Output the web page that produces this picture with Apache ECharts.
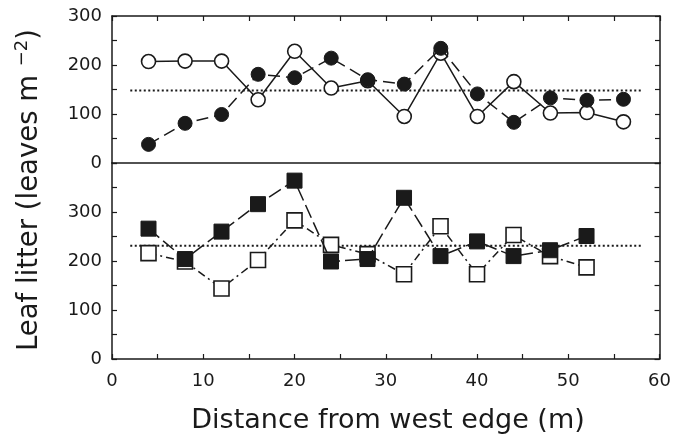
<!DOCTYPE html>
<html>
<head>
<meta charset="utf-8">
<script src="https://cdn.jsdelivr.net/npm/echarts@6/dist/echarts.min.js"></script>
<style>
html, body { margin: 0; padding: 0; background: #fff; }
#container { width: 674px; height: 439px; }
</style>
</head>
<body>
<div id="container"></div>
<script>
// upper panel (circles)
var distTop = [4, 8, 12, 16, 20, 24, 28, 32, 36, 40, 44, 48, 52, 56];
var openTop = [207, 208, 208, 129, 228, 153, 168, 95, 224, 95, 166, 102, 103, 84];
var filledTop = [38, 81, 99, 181, 174, 214, 170, 161, 234, 141, 83, 133, 128, 130];
var meanTop = 148;

// lower panel (squares)
var distBottom = [4, 8, 12, 16, 20, 24, 28, 32, 36, 40, 44, 48, 52];
var filledBottom = [266, 204, 260, 316, 364, 199, 204, 329, 210, 240, 210, 222, 251];
var openBottom = [216, 199, 144, 202, 283, 233, 214, 173, 271, 173, 253, 210, 187];
var meanBottom = 231;

var meanSpan = [2, 58];

var FONT = 'DejaVu Sans';
var INK = '#1a1a1a';

function pairs(xs, ys) {
    var out = [];
    for (var i = 0; i < xs.length; i++) out.push([xs[i], ys[i]]);
    return out;
}
function flat(xs, v) {
    return xs.map(function (x) { return [x, v]; });
}

var dom = document.getElementById('container');
var myChart = echarts.init(dom, null, { renderer: 'canvas' });

var lineStyle = { color: INK, width: 1.5 };
var tick = { show: true, inside: true, length: 5, lineStyle: { color: INK, width: 1.2 } };
var minor = { show: true, splitNumber: 2, length: 5, lineStyle: { color: INK, width: 1.2 } };

function xAx(grid, pos, labels, ticks) {
    return {
        type: 'value', gridIndex: grid, position: pos, min: 0, max: 60, interval: 10,
        axisLine: { show: true, onZero: false, lineStyle: lineStyle },
        axisTick: ticks ? tick : { show: false },
        minorTick: ticks ? minor : { show: false },
        axisLabel: { show: labels, color: INK, fontFamily: FONT, fontSize: 18, margin: 13 },
        splitLine: { show: false }
    };
}
function yAx(grid, pos, max, labels) {
    return {
        type: 'value', gridIndex: grid, position: pos, min: 0, max: max, interval: 100,
        axisLine: { show: true, onZero: false, lineStyle: lineStyle },
        axisTick: tick,
        minorTick: minor,
        axisLabel: {
            show: labels, color: INK, fontFamily: FONT, fontSize: 18, margin: 10,
            formatter: function (v) { return v === 400 ? '' : v; }
        },
        splitLine: { show: false }
    };
}

var option = {
    backgroundColor: '#fff',
    animation: false,
    grid: [
        { left: 112, right: 14, top: 16, height: 147 },
        { left: 112, right: 14, top: 163, height: 196 }
    ],
    xAxis: [
        xAx(0, 'bottom', false, false),
        xAx(0, 'top', false, true),
        xAx(1, 'bottom', true, true)
    ],
    yAxis: [
        yAx(0, 'left', 300, true),
        yAx(0, 'right', 300, false),
        yAx(1, 'left', 400, true),
        yAx(1, 'right', 400, false)
    ],
    graphic: [
        {
            type: 'text', x: 388, y: 421,
            style: {
                text: 'Distance from west edge (m)', fill: INK,
                font: '27px "DejaVu Sans"', align: 'center', verticalAlign: 'middle'
            }
        },
        {
            type: 'text', x: 30, y: 190, rotation: Math.PI / 2,
            style: {
                text: '{a|Leaf litter (leaves m }{s|\u22122}{a|)}',
                align: 'center', verticalAlign: 'middle',
                rich: {
                    a: { fontFamily: FONT, fontSize: 27.5, fill: INK, color: INK, lineHeight: 34 },
                    s: { fontFamily: FONT, fontSize: 18, fill: INK, color: INK, lineHeight: 34, verticalAlign: 'top' }
                }
            }
        }
    ],
    series: [
        {
            type: 'line', xAxisIndex: 0, yAxisIndex: 0, data: flat(meanSpan, meanTop),
            symbol: 'none', lineStyle: { color: INK, width: 2, type: [2, 2.5] }, z: 1
        },
        {
            name: 'open circles', type: 'line', xAxisIndex: 0, yAxisIndex: 0,
            data: pairs(distTop, openTop),
            symbol: 'circle', symbolSize: 14,
            itemStyle: { color: '#fff', borderColor: INK, borderWidth: 1.6 },
            lineStyle: { color: INK, width: 1.5 }, z: 2
        },
        {
            name: 'filled circles', type: 'line', xAxisIndex: 0, yAxisIndex: 0,
            data: pairs(distTop, filledTop),
            symbol: 'circle', symbolSize: 14,
            itemStyle: { color: INK, borderColor: INK, borderWidth: 1 },
            lineStyle: { color: INK, width: 1.5, type: [12, 6] }, z: 3
        },
        {
            type: 'line', xAxisIndex: 2, yAxisIndex: 2, data: flat(meanSpan, meanBottom),
            symbol: 'none', lineStyle: { color: INK, width: 2, type: [2, 2.5] }, z: 1
        },
        {
            name: 'open squares', type: 'line', xAxisIndex: 2, yAxisIndex: 2,
            data: pairs(distBottom, openBottom),
            symbol: 'rect', symbolSize: 15,
            itemStyle: { color: '#fff', borderColor: INK, borderWidth: 1.6 },
            lineStyle: { color: INK, width: 1.5, type: [8, 4, 2, 4] }, z: 2
        },
        {
            name: 'filled squares', type: 'line', xAxisIndex: 2, yAxisIndex: 2,
            data: pairs(distBottom, filledBottom),
            symbol: 'rect', symbolSize: 15,
            itemStyle: { color: INK, borderColor: INK, borderWidth: 1 },
            lineStyle: { color: INK, width: 1.5, type: [14, 5] }, z: 3
        }
    ]
};

if (option && typeof option === 'object') {
    myChart.setOption(option);
}
</script>
</body>
</html>
